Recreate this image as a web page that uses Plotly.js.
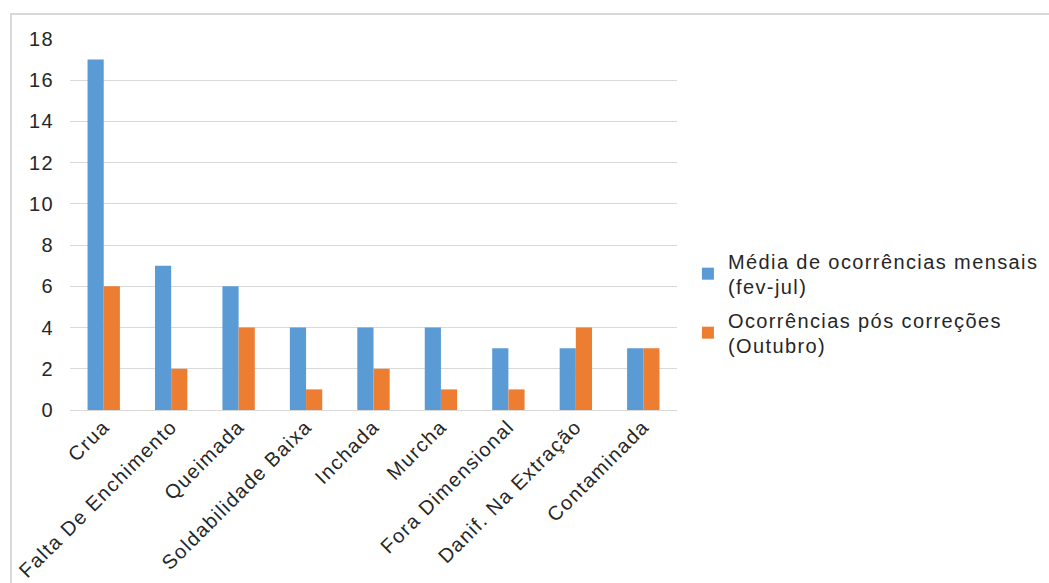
<!DOCTYPE html>
<html><head><meta charset="utf-8">
<script src="https://cdn.plot.ly/plotly-3.0.1.min.js"></script>
<style>
html,body{margin:0;padding:0;background:#fff;overflow:hidden;}
#frame{position:absolute;left:10px;top:13px;width:1100px;height:650px;border:2px solid #d9d9d9;box-sizing:border-box;}
#chart{position:absolute;left:0;top:0;width:1049px;height:583px;}
#chart text{letter-spacing:1.4px;}
</style></head>
<body>
<div id="frame"></div>
<div id="chart"></div>
<script>
const categories = ["Crua","Falta De Enchimento","Queimada","Soldabilidade Baixa","Inchada","Murcha","Fora Dimensional","Danif. Na Extração","Contaminada"];
const mediaMensal = [17,7,6,4,4,4,3,3,3];
const posCorrecoes = [6,2,4,1,2,1,1,4,3];
const seriesNames = ["Média de ocorrências mensais<br>(fev-jul)","Ocorrências pós correções<br>(Outubro)"];
const yTicks = [0,2,4,6,8,10,12,14,16,18];

const data = [
  {type:'bar', x:categories, y:mediaMensal, name:seriesNames[0], legendgroup:'a', marker:{color:'#5b9bd5'}},
  {type:'bar', x:categories, y:posCorrecoes, name:seriesNames[1], legendgroup:'b', marker:{color:'#ed7d31'}}
];
const layout = {
  width:1049, height:583,
  margin:{l:70, r:372, t:39, b:173, pad:0},
  paper_bgcolor:'rgba(0,0,0,0)', plot_bgcolor:'rgba(0,0,0,0)',
  font:{family:'Liberation Sans, Arial, sans-serif', size:20, color:'#262626'},
  barmode:'group', bargap:0.52, bargroupgap:0,
  xaxis:{type:'category', tickangle:-45, showgrid:false, showline:false, ticks:'', tickfont:{size:20}, automargin:false},
  yaxis:{range:[0,18], tickvals:yTicks, showgrid:true, gridcolor:'#d9d9d9', gridwidth:1, zeroline:true, zerolinecolor:'#d9d9d9', zerolinewidth:1, showline:false, ticks:'', ticklabelstandoff:15, tickfont:{size:20}, automargin:false},
  showlegend:true,
  legend:{x:1.018, xanchor:'left', y:0.455, yanchor:'top', font:{size:20}, bgcolor:'rgba(0,0,0,0)', tracegroupgap:4, itemwidth:30}
};
Plotly.newPlot('chart', data, layout, {displayModeBar:false, staticPlot:true}).then(function(gd){
  gd.querySelectorAll('.legend [clip-path]').forEach(function(el){ el.removeAttribute('clip-path'); });
});
</script>
</body></html>
